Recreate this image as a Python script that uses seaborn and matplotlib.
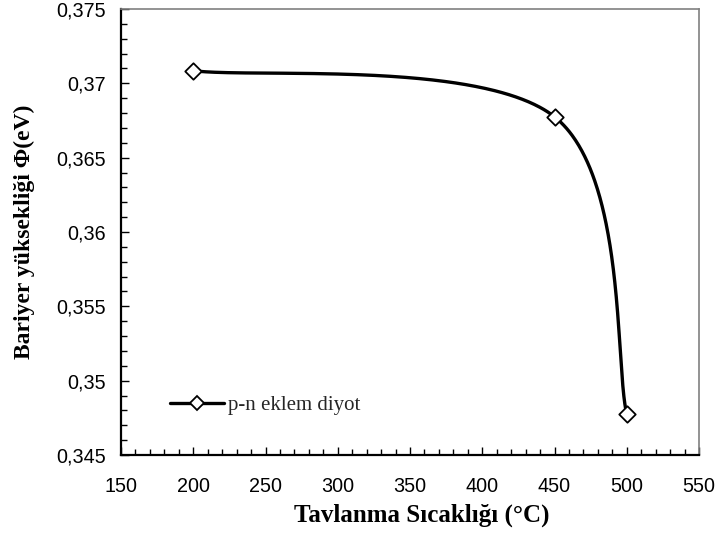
import numpy as np
import pandas as pd
import matplotlib
matplotlib.use("Agg")
import matplotlib.pyplot as plt
from matplotlib.ticker import MultipleLocator, FuncFormatter
from matplotlib.lines import Line2D
import seaborn as sns

# Annealing temperature (°C) and barrier height (eV)
temperature = [200, 450, 500]
barrier_height = [0.37085, 0.36775, 0.34775]
series_label = "p-n eklem diyot"
x_label = "Tavlanma Sıcaklığı (°C)"
y_label = "Bariyer yüksekliği Φ(eV)"

sns.set_theme(style="white")
plt.rcParams["font.family"] = ["Liberation Sans", "DejaVu Sans"]
serif = ["Liberation Serif", "DejaVu Serif"]

fig = plt.figure(figsize=(7.19, 5.39), dpi=100)
ax = fig.add_axes([0.1683, 0.1558, 0.8039, 0.8275])

xlim = (150, 550)
ylim = (0.345, 0.375)
ax.set_xlim(*xlim)
ax.set_ylim(*ylim)

# Smoothed connecting curve (cubic Bezier through the points, spreadsheet style),
# built in screen-proportional space so the tangents look right on the page.
def smooth_curve(xs, ys, n=200):
    bb = ax.get_position()
    sx = fig.get_figwidth() * bb.width / (xlim[1] - xlim[0])
    sy = fig.get_figheight() * bb.height / (ylim[1] - ylim[0])
    P = np.column_stack([np.asarray(xs, float) * sx, np.asarray(ys, float) * sy])
    m = len(P)
    out = []
    t = np.linspace(0, 1, n)[:, None]
    for i in range(m - 1):
        p0 = P[i]
        p3 = P[i + 1]
        prev = P[i - 1] if i > 0 else P[i]
        nxt = P[i + 2] if i + 2 < m else P[i + 1]
        c1 = p0 + (p3 - prev) / 6.0
        c2 = p3 - (nxt - p0) / 6.0
        seg = ((1 - t) ** 3) * p0 + 3 * ((1 - t) ** 2) * t * c1 + 3 * (1 - t) * t ** 2 * c2 + t ** 3 * p3
        out.append(seg if i == 0 else seg[1:])
    pts = np.vstack(out)
    return pts[:, 0] / sx, pts[:, 1] / sy

cx, cy = smooth_curve(temperature, barrier_height)
curve = pd.DataFrame({"T": cx, "phi": cy})
points = pd.DataFrame({"T": temperature, "phi": barrier_height})

sns.lineplot(data=curve, x="T", y="phi", sort=False, estimator=None,
             color="black", linewidth=2.4, ax=ax, zorder=3)
sns.scatterplot(data=points, x="T", y="phi", marker="D", s=70,
                facecolor="white", edgecolor="black", linewidth=1.3,
                ax=ax, zorder=4)

# Axes styling
ax.xaxis.set_major_locator(MultipleLocator(50))
ax.xaxis.set_minor_locator(MultipleLocator(10))
ax.yaxis.set_major_locator(MultipleLocator(0.005))
ax.yaxis.set_minor_locator(MultipleLocator(0.001))
ax.xaxis.set_major_formatter(FuncFormatter(lambda v, p: f"{round(v):d}"))
ax.yaxis.set_major_formatter(FuncFormatter(lambda v, p: f"{round(v, 3):g}".replace(".", ",")))

ax.tick_params(axis="both", which="both", direction="in", colors="black",
               labelsize=14.2, top=False, right=False, bottom=True, left=True)
ax.tick_params(axis="both", which="major", length=5.5, width=1.0)
ax.tick_params(axis="both", which="minor", length=4, width=1.0)
ax.tick_params(axis="x", which="major", pad=16)
ax.tick_params(axis="y", which="major", pad=11)

for side in ("left", "bottom"):
    ax.spines[side].set_color("black")
    ax.spines[side].set_linewidth(1.6)
for side in ("top", "right"):
    ax.spines[side].set_color("#808080")
    ax.spines[side].set_linewidth(1.2)

ax.set_xlabel(x_label, fontfamily=serif, fontweight="bold", fontsize=18, color="black")
ax.set_ylabel(y_label, fontfamily=serif, fontweight="bold", fontsize=17, color="black")
ax.xaxis.set_label_coords(0.52, -0.108)
ax.yaxis.set_label_coords(-0.148, 0.5)

handle = Line2D([], [], color="black", linewidth=2.4, marker="D", markersize=7,
                markerfacecolor="white", markeredgecolor="black", markeredgewidth=1.3)
leg = ax.legend([handle], [series_label], loc="center left",
                bbox_to_anchor=(0.07, 0.112), frameon=False, handlelength=2.6,
                handletextpad=0.2, borderaxespad=0, numpoints=1,
                prop={"family": serif, "size": 15})

fig.savefig("out.png", dpi=100, facecolor="white")
